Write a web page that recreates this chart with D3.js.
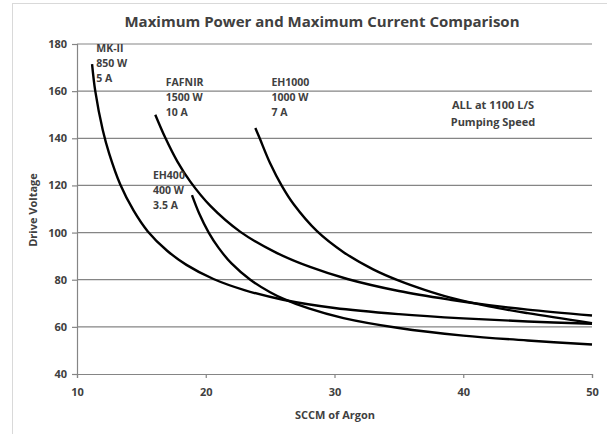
<!DOCTYPE html>
<html lang="en">
<head>
<meta charset="utf-8">
<title>Maximum Power and Maximum Current Comparison</title>
<script src="https://d3js.org/d3.v7.min.js"></script>
<style>
  body { margin: 0; background: #fff; }
  svg text { font-family: "Open Sans", "Liberation Sans", sans-serif; font-weight: bold; fill: #404040; }
</style>
</head>
<body>
<script>
// values (SCCM of Argon, Drive Voltage)
var mk2 = [[11.17,171.5],[11.42,160],[12,143.5],[12.5,133.5],[13.37,120.3],[14.4,109.3],[15.5,100.5],[17,92.3],[18.5,86.3],[20.6,80.3],[23,75.6],[26,71.5],[30,68],[35,65.4],[40,63.6],[45,62.3],[50,61.3]];
var fafnir = [[16.08,150],[16.86,140.2],[17.8,130.1],[18.8,121.6],[20.36,111.3],[22.69,100.3],[25.5,91.4],[28.1,85.4],[31,80.3],[35,75.2],[39,71.5],[42,69.2],[45,67.3],[50,64.8]];
var eh400 = [[18.93,115.9],[19.5,108],[20.23,100],[21,93.5],[22,86.9],[23.46,80],[25,74.7],[26.05,71.9],[28,67.8],[30.7,63.7],[35,59.5],[40,56.3],[45,54.2],[50,52.5]];
var eh1000 = [[23.85,144.4],[24.19,140],[25,129.4],[25.92,119.7],[26.83,112],[28.64,100.6],[30.7,91.7],[33,84.4],[35,79.6],[37,75.7],[39,72.4],[42,68.7],[45,65.8],[50,61.6]];
var series = [mk2, fafnir, eh400, eh1000];

var labels = [
  {x: 11.5, y: 176.8, lines: ["MK-II", "850 W", "5 A"]},
  {x: 16.9, y: 162.2, lines: ["FAFNIR", "1500 W", "10 A"]},
  {x: 15.9, y: 122.6, lines: ["EH400", "400 W", "3.5 A"]},
  {x: 25.1, y: 162.2, lines: ["EH1000", "1000 W", "7 A"]}
];
var note = ["ALL at 1100 L/S", "Pumping Speed"];

var xTicks = [10, 20, 30, 40, 50];
var yTicks = [40, 60, 80, 100, 120, 140, 160, 180];

var width = 607, height = 434;
var margin = {left: 77, right: 15, top: 44, bottom: 60};

var svg = d3.select("body").append("svg")
  .attr("width", width)
  .attr("height", height);

// chart border
svg.append("rect")
  .attr("x", 12.5).attr("y", 3.5)
  .attr("width", 620).attr("height", 460)
  .attr("fill", "none").attr("stroke", "#d9d9d9");

var x = d3.scaleLinear().domain([10, 50]).range([margin.left, width - margin.right]);
var y = d3.scaleLinear().domain([40, 180]).range([height - margin.bottom, margin.top]);

// gridlines
svg.append("g")
  .selectAll("line")
  .data(yTicks.slice(1))
  .enter().append("line")
  .attr("x1", x(10)).attr("x2", x(50))
  .attr("y1", d => y(d)).attr("y2", d => y(d))
  .attr("stroke", "#858585").attr("stroke-width", 1.2);

var yAxis = svg.append("g")
  .attr("transform", "translate(" + x(10) + ",0)")
  .call(d3.axisLeft(y).tickValues(yTicks).tickSize(5).tickPadding(5));
var xAxis = svg.append("g")
  .attr("transform", "translate(0," + y(40) + ")")
  .call(d3.axisBottom(x).tickValues(xTicks).tickSize(4).tickPadding(10));

[yAxis, xAxis].forEach(function(a) {
  a.select(".domain").attr("stroke", "#858585").attr("stroke-width", 1.2);
  a.selectAll(".tick line").attr("stroke", "#858585").attr("stroke-width", 1.2);
  a.selectAll("text").attr("font-size", 11).attr("fill", "#404040")
    .style("font-family", '"Open Sans", sans-serif').style("font-weight", "bold");
});

var line = d3.line()
  .x(d => x(d[0]))
  .y(d => y(d[1]))
  .curve(d3.curveCatmullRom.alpha(0.5));

svg.append("g")
  .selectAll("path")
  .data(series)
  .enter().append("path")
  .attr("d", line)
  .attr("fill", "none")
  .attr("stroke", "#000")
  .attr("stroke-width", 2.4);

// curve labels
labels.forEach(function(l) {
  var t = svg.append("text")
    .attr("x", x(l.x)).attr("y", y(l.y))
    .attr("font-size", 10.5);
  l.lines.forEach(function(s, i) {
    t.append("tspan").attr("x", x(l.x)).attr("dy", i == 0 ? 0 : 15).text(s);
  });
});

var nt = svg.append("text")
  .attr("x", 493).attr("y", 109)
  .attr("text-anchor", "middle")
  .attr("font-size", 11);
note.forEach(function(s, i) {
  nt.append("tspan").attr("x", 493).attr("dy", i == 0 ? 0 : 16.5).text(s);
});

svg.append("text")
  .attr("x", 322).attr("y", 27)
  .attr("text-anchor", "middle")
  .attr("font-size", 15)
  .attr("fill", "#262626")
  .text("Maximum Power and Maximum Current Comparison");

svg.append("text")
  .attr("x", 335).attr("y", 419)
  .attr("text-anchor", "middle")
  .attr("font-size", 11)
  .text("SCCM of Argon");

svg.append("text")
  .attr("transform", "translate(37,210) rotate(-90)")
  .attr("text-anchor", "middle")
  .attr("font-size", 11)
  .text("Drive Voltage");
</script>
</body>
</html>
